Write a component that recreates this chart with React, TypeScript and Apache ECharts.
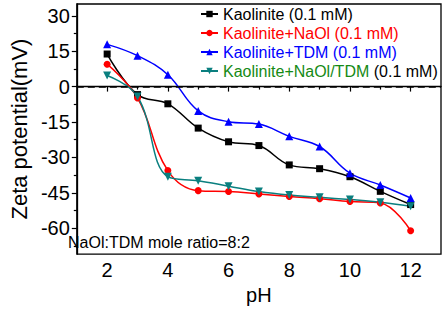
import React, { useEffect, useRef } from "react";
import * as echarts from "echarts";

const pH = [2, 3, 4, 5, 6, 7, 8, 9, 10, 11, 12];
const kaolinite = [13.8, -3.4, -7.3, -17.6, -23.4, -25, -33.2, -34.8, -38.2, -44.4, -50];
const naol = [9.5, -4.8, -35.6, -44.1, -44.5, -45.5, -46.6, -47.5, -48.7, -49.3, -61.1];
const tdm = [17.9, 13.1, 5, -10.3, -14.9, -15.9, -21.1, -25.4, -36.7, -41.7, -47.2];
const mix = [4.7, -4.2, -38.2, -39.9, -42.2, -44.5, -46, -46.9, -47.9, -49, -50.7];

const seriesNames = [
  "Kaolinite (0.1 mM)",
  "Kaolinite+NaOl (0.1 mM)",
  "Kaolinite+TDM (0.1 mM)",
  "Kaolinite+NaOl/TDM (0.1 mM)",
];
const xMajor = [2, 4, 6, 8, 10, 12];
const xMinor = [3, 5, 7, 9, 11];
const yMajor = [-60, -45, -30, -15, 0, 15, 30];
const yMinor = [-67.5, -52.5, -37.5, -22.5, -7.5, 7.5, 22.5];
const noteText = "NaOl:TDM mole ratio=8:2";

const FONT = "Arial, 'Liberation Sans', sans-serif";

export default function App() {
  const ref = useRef<HTMLDivElement>(null);
  useEffect(() => {
    if (!ref.current) return;
    const chart = echarts.init(ref.current, null, { renderer: "svg" });
    const mk = (vals: number[]) => pH.map((x, i) => [x, vals[i]]);
    const base = (name: string, color: string, data: number[], symbol: string, size: number, rot = 0) => ({
      name,
      type: "line",
      data: mk(data),
      smooth: 0.4,
      symbol,
      symbolSize: size,
      symbolRotate: rot,
      showSymbol: true,
      itemStyle: { color },
      lineStyle: { color, width: 1.5 },
      xAxisIndex: 0,
      yAxisIndex: 0,
      z: 3,
    });
    const s0: any = base(seriesNames[0], "#000000", kaolinite, "rect", 7);
    s0.markLine = {
      silent: true,
      symbol: ["none", "none"],
      label: { show: false },
      lineStyle: { color: "#000", type: [7, 4], width: 1.5 },
      data: [{ yAxis: 0 }],
    };
    const option: any = {
      animation: false,
      grid: {
        left: 63,
        right: 5,
        top: 4,
        bottom: 53,
        show: true,
        borderColor: "#000",
        borderWidth: 1.3,
      },
      legend: {
        orient: "vertical",
        left: 200,
        top: 6,
        padding: 0,
        itemWidth: 17,
        itemHeight: 8,
        itemGap: 3,
        data: seriesNames,
        formatter: (n: string) => {
          if (n === seriesNames[0]) return "{k|" + n + "}";
          if (n === seriesNames[1]) return "{r|" + n + "}";
          if (n === seriesNames[2]) return "{b|" + n + "}";
          return "{g|Kaolinite+NaOl/TDM} {k|(0.1 mM)}";
        },
        textStyle: {
          fontFamily: FONT,
          fontSize: 16,
          rich: {
            k: { color: "#000", fontFamily: FONT, fontSize: 16 },
            r: { color: "#ff0000", fontFamily: FONT, fontSize: 16 },
            b: { color: "#0000ff", fontFamily: FONT, fontSize: 16 },
            g: { color: "#158a15", fontFamily: FONT, fontSize: 16 },
          },
        },
      },
      xAxis: [
        {
          type: "value",
          min: 1,
          max: 13,
          name: "pH",
          nameLocation: "middle",
          nameGap: 28,
          nameTextStyle: { fontFamily: FONT, fontSize: 20, color: "#000" },
          axisLine: { lineStyle: { color: "#000", width: 1.3 } },
          axisTick: { customValues: xMajor, length: 5, lineStyle: { color: "#000", width: 1.2 } },
          axisLabel: { customValues: xMajor, fontFamily: FONT, fontSize: 20, color: "#000", margin: 6 },
          splitLine: { show: false },
        },
        {
          type: "value",
          min: 1,
          max: 13,
          position: "bottom",
          axisLine: { show: false },
          axisTick: { customValues: xMinor, length: 3, lineStyle: { color: "#000", width: 1.2 } },
          axisLabel: { show: false },
          splitLine: { show: false },
        },
      ],
      yAxis: [
        {
          type: "value",
          min: -71,
          max: 35,
          name: "Zeta potential(mV)",
          nameLocation: "middle",
          nameGap: 46,
          nameTextStyle: { fontFamily: FONT, fontSize: 22, color: "#000" },
          axisLine: { show: true, lineStyle: { color: "#000", width: 1.3 } },
          axisTick: { show: true, customValues: yMajor, length: 5, lineStyle: { color: "#000", width: 1.2 } },
          axisLabel: { customValues: yMajor, fontFamily: FONT, fontSize: 20, color: "#000", margin: 7 },
          splitLine: { show: false },
        },
        {
          type: "value",
          min: -71,
          max: 35,
          position: "left",
          axisLine: { show: false },
          axisTick: { show: true, customValues: yMinor, length: 3, lineStyle: { color: "#000", width: 1.2 } },
          axisLabel: { show: false },
          splitLine: { show: false },
        },
      ],
      graphic: [
        {
          type: "text",
          left: 68,
          top: 234,
          style: { text: noteText, font: "16px " + FONT, fill: "#000" },
          z: 10,
        },
      ],
      series: [
        s0,
        base(seriesNames[1], "#ff0000", naol, "circle", 7),
        base(seriesNames[2], "#0000ff", tdm, "triangle", 8),
        base(seriesNames[3], "#0a7f7f", mix, "triangle", 8, 180),
      ],
    };
    chart.setOption(option);
    return () => chart.dispose();
  }, []);
  return (
    <div
      ref={ref}
      style={{ position: "fixed", left: 0, top: 0, width: 446, height: 310, background: "#fff" }}
    />
  );
}
